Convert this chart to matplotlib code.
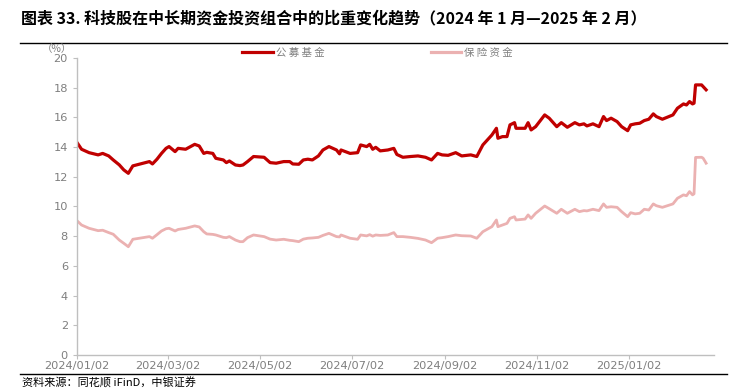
import pandas as pd
import numpy as np
import matplotlib.pyplot as plt
import matplotlib.dates as mdates
from matplotlib.lines import Line2D

plt.rcParams['font.family'] = ['Noto Sans CJK SC', 'DejaVu Sans']

# days after 2024-01-02
days = [0, 3, 8, 14, 17, 21, 24, 28, 31, 34, 37, 48, 50, 53, 56, 59, 61, 65, 67, 72,
        78, 81, 84, 86, 90, 92, 97, 99, 101, 105, 108, 110, 113, 117, 124, 128, 132, 137, 141, 143,
        147, 150, 153, 156, 160, 163, 167, 172, 174, 175, 181, 186, 188, 192, 194, 196, 198, 201, 206, 210,
        212, 216, 221, 226, 231, 235, 239, 242, 246, 251, 255, 261, 265, 269, 275, 278, 279, 282, 285, 287,
        290, 291, 297, 299, 301, 304, 310, 313, 318, 321, 325, 330, 333, 336, 338, 342, 346, 349, 351, 354,
        358, 361, 365, 367, 370, 373, 376, 379, 382, 384, 388, 395, 398, 402, 404, 406, 408, 409, 410, 414,
        415, 417]

fund = [14.30, 13.85, 13.62, 13.47, 13.57, 13.40, 13.13, 12.80, 12.46, 12.23, 12.73, 13.02, 12.86, 13.18, 13.57, 13.91, 14.03, 13.69, 13.91, 13.85,
        14.18, 14.07, 13.57, 13.64, 13.57, 13.24, 13.13, 12.95, 13.06, 12.79, 12.75, 12.79, 13.02, 13.36, 13.31, 12.95, 12.91, 13.02, 13.02, 12.86,
        12.84, 13.13, 13.18, 13.13, 13.40, 13.80, 14.03, 13.80, 13.54, 13.80, 13.57, 13.62, 14.14, 14.03, 14.18, 13.85, 13.98, 13.74, 13.80, 13.91,
        13.50, 13.31, 13.36, 13.40, 13.31, 13.13, 13.57, 13.47, 13.44, 13.62, 13.40, 13.47, 13.36, 14.14, 14.81, 15.26, 14.59, 14.70, 14.70, 15.49,
        15.64, 15.26, 15.26, 15.64, 15.15, 15.37, 16.16, 15.94, 15.37, 15.64, 15.33, 15.64, 15.49, 15.56, 15.42, 15.56, 15.37, 16.05, 15.78, 15.94,
        15.71, 15.37, 15.10, 15.49, 15.56, 15.60, 15.78, 15.87, 16.23, 16.05, 15.87, 16.16, 16.61, 16.90, 16.83, 17.06, 16.90, 16.95, 18.18, 18.18,
        18.07, 17.85]

insurance = [9.04, 8.75, 8.53, 8.37, 8.40, 8.24, 8.13, 7.74, 7.52, 7.29, 7.79, 7.97, 7.86, 8.10, 8.35, 8.50, 8.53, 8.35, 8.45, 8.53,
             8.69, 8.62, 8.30, 8.15, 8.12, 8.08, 7.92, 7.90, 7.97, 7.74, 7.63, 7.63, 7.90, 8.08, 7.97, 7.80, 7.74, 7.79, 7.72, 7.70,
             7.63, 7.80, 7.86, 7.88, 7.92, 8.05, 8.19, 7.97, 7.95, 8.08, 7.86, 7.79, 8.08, 8.02, 8.10, 8.00, 8.08, 8.05, 8.08, 8.24,
             7.97, 7.97, 7.92, 7.85, 7.74, 7.56, 7.86, 7.90, 7.97, 8.08, 8.03, 8.01, 7.86, 8.30, 8.64, 9.09, 8.64, 8.75, 8.86, 9.20,
             9.31, 9.09, 9.15, 9.43, 9.20, 9.54, 10.03, 9.85, 9.54, 9.81, 9.54, 9.81, 9.65, 9.72, 9.70, 9.81, 9.72, 10.17, 9.94, 9.98,
             9.94, 9.65, 9.31, 9.58, 9.50, 9.54, 9.81, 9.76, 10.17, 10.05, 9.94, 10.17, 10.55, 10.78, 10.72, 11.00, 10.78, 10.85, 13.30, 13.31,
             13.25, 12.91]

tick_dates = ['2024-01-02', '2024-03-02', '2024-05-02', '2024-07-02', '2024-09-02', '2024-11-02', '2025-01-02']

start = pd.Timestamp('2024-01-02')
dates = start + pd.to_timedelta(days, unit='D')

red = '#C00000'
pink = '#EBB1B1'
gray = '#7F7F7F'

fig = plt.figure(figsize=(7.42, 3.91), dpi=100)
ax = fig.add_axes([0.1038, 0.092, 0.858, 0.76])

ax.plot(dates, insurance, color=pink, lw=2.0, solid_joinstyle='round')
ax.plot(dates, fund, color=red, lw=2.3, solid_joinstyle='round')

ax.set_ylim(0, 20)
ax.set_yticks(np.arange(0, 21, 2))
ax.set_xlim(start, start + pd.Timedelta(days=422))
ax.set_xticks(pd.to_datetime(tick_dates))
ax.xaxis.set_major_formatter(mdates.DateFormatter('%Y/%m/%d'))

for s in ['top', 'right']:
    ax.spines[s].set_visible(False)
for s in ['left', 'bottom']:
    ax.spines[s].set_color('#BFBFBF')
    ax.spines[s].set_linewidth(1.0)
ax.tick_params(axis='both', colors='#BFBFBF', labelcolor=gray, labelsize=8.2, length=3, width=0.8)
ax.tick_params(axis='x', pad=1)
for lab in ax.get_xticklabels() + ax.get_yticklabels():
    lab.set_family('DejaVu Sans')

fig.text(0.056, 0.875, '（%）', fontsize=7.5, color=gray, ha='left', va='center')

# legend
handles = [Line2D([], [], color=red, lw=2.3), Line2D([], [], color=pink, lw=2.3)]
ax.legend(handles, ['公 募 基 金', '保 险 资 金'], loc='center', bbox_to_anchor=(0.472, 1.017),
          ncol=2, frameon=False, fontsize=7.5, labelcolor=gray, handlelength=2.9,
          handletextpad=0.3, columnspacing=10.2)

fig.text(0.028, 0.952, '图表 33. 科技股在中长期资金投资组合中的比重变化趋势（2024 年 1 月—2025 年 2 月）',
         fontsize=11.5, fontweight='bold', ha='left', va='center', color='black')
fig.add_artist(Line2D([0.027, 0.98], [0.89, 0.89], color='black', lw=1.0))
fig.add_artist(Line2D([0.027, 0.98], [0.0435, 0.0435], color='black', lw=1.0))
fig.text(0.03, 0.02, '资料来源：同花顺 iFinD，中银证券', fontsize=8, style='italic',
         ha='left', va='center', color='black')

fig.savefig('out.png', dpi=100)
